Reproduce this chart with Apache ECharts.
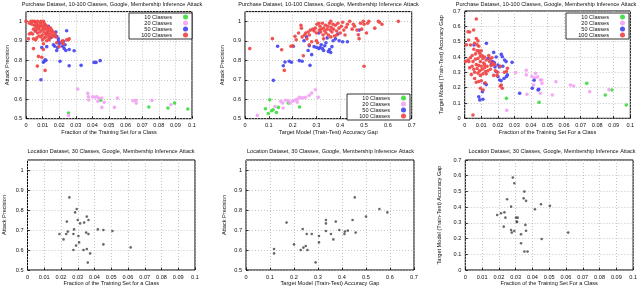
<!DOCTYPE html>
<html><head><meta charset="utf-8">
<script src="https://cdn.jsdelivr.net/npm/echarts@6/dist/echarts.min.js"></script>
<style>html,body{margin:0;padding:0;background:#fff}#c{width:640px;height:289px}</style>
</head><body><div id="c"></div>
<script>
// ---------- DATA ----------
const titleTop = 'Purchase Dataset, 10-100 Classes, Google, Membership Inference Attack';
const titleBottom = 'Location Dataset, 30 Classes, Google, Membership Inference Attack';
const seriesNames = ['10 Classes', '20 Classes', '50 Classes', '100 Classes'];

// Panel 1: fraction of training set vs attack precision
const p1_c10 = [[0.0256,0.529],[0.045,0.595],[0.074,0.56],[0.0855,0.555],[0.0895,0.58],[0.0975,0.55]];
const p1_c20 = [[0.0312,0.652],[0.0372,0.63],[0.0376,0.613],[0.0378,0.596],[0.0402,0.613],[0.0416,0.61],[0.0427,0.613],[0.0433,0.589],[0.044,0.605],[0.0457,0.606],[0.0457,0.558],[0.0471,0.584],[0.0533,0.558],[0.0551,0.606],[0.0644,0.592],[0.0662,0.594],[0.0664,0.58],[0.0759,0.594],[0.0873,0.572],[0.0256,0.517]];
const p1_c50 = [[0.0058,0.95],[0.0095,0.866],[0.009,0.70],[0.011,0.795],[0.0115,0.803],[0.0125,0.94],[0.0135,0.975],[0.0145,0.915],[0.0165,0.88],[0.0173,0.872],[0.0185,0.85],[0.019,0.865],[0.0195,0.897],[0.02,0.885],[0.0205,0.795],[0.0215,0.89],[0.022,0.872],[0.0225,0.897],[0.023,0.86],[0.024,0.85],[0.0245,0.952],[0.026,0.772],[0.026,0.855],[0.029,0.849],[0.0332,0.774],[0.041,0.789],[0.0422,0.789],[0.0447,0.798],[0.018,0.945],[0.0185,0.923],[0.0125,0.87],[0.0155,0.92],[0.0195,0.91],[0.0235,0.88],[0.0105,0.79],[0.012,0.80]];
const p1_c100 = [[0.000,1.0],[0.003,1.0],[0.004,1.0],[0.005,1.0],[0.0055,0.998],[0.007,1.0],[0.009,1.0],[0.0105,1.0],[0.0085,0.995],[0.006,0.99],
[0.002,0.99],[0.0035,0.985],[0.005,0.98],[0.0065,0.975],[0.008,0.97],[0.009,0.985],[0.01,0.975],[0.011,0.99],[0.012,0.98],[0.0075,0.96],[0.0095,0.955],[0.0105,0.965],[0.0115,0.96],[0.0125,0.965],[0.013,0.95],[0.014,0.955],[0.015,0.945],[0.0085,0.945],[0.007,0.94],[0.0055,0.95],[0.0045,0.96],[0.006,0.965],[0.0108,0.945],[0.0118,0.935],[0.0128,0.94],[0.0135,0.93],[0.0145,0.935],[0.016,0.93],[0.017,0.925],[0.0098,0.93],[0.009,0.92],[0.0078,0.925],[0.0065,0.915],[0.011,0.915],[0.012,0.92],[0.0138,0.915],[0.0155,0.92],[0.018,0.92],[0.0175,0.935],[0.0165,0.945],[0.0155,0.955],[0.0085,0.975],[0.0112,0.978],[0.0072,0.982],[0.0135,0.97],[0.0148,0.965],[0.003,0.94],[0.002,0.935],[0.004,0.935],[0.0015,0.91],[0.0045,0.91],[0.0058,0.905],[0.01,0.905],[0.0125,0.9],[0.014,0.905],[0.0215,0.895],[0.022,0.9],[0.0225,0.885],[0.0245,0.905],[0.026,0.91],[0.0255,0.905],[0.0185,0.89],[0.02,0.87],
[0.0045,0.86],[0.0075,0.82],[0.0095,0.815],[0.0105,0.855],[0.0105,0.885],[0.0068,0.77],[0.0115,0.748]];

// Panel 2: accuracy gap vs attack precision
const p2_c10 = [[0.104,0.597],[0.086,0.551],[0.098,0.527],[0.112,0.541],[0.118,0.546],[0.132,0.532],[0.14,0.558],[0.182,0.58],[0.229,0.56]];
const p2_c20 = [[0.052,0.517],[0.126,0.563],[0.15,0.589],[0.158,0.58],[0.17,0.595],[0.182,0.592],[0.19,0.58],[0.2,0.59],[0.21,0.595],[0.218,0.6],[0.228,0.61],[0.235,0.607],[0.245,0.607],[0.255,0.61],[0.27,0.62],[0.28,0.632],[0.296,0.649],[0.308,0.61],[0.22,0.585],[0.16,0.555]];
const p2_c50 = [[0.119,0.697],[0.137,0.872],[0.161,0.772],[0.168,0.791],[0.186,0.795],[0.195,0.79],[0.203,0.872],[0.228,0.798],[0.24,0.795],[0.248,0.9],[0.258,0.92],[0.273,0.774],[0.28,0.829],[0.265,0.85],[0.27,0.875],[0.29,0.87],[0.301,0.866],[0.31,0.86],[0.315,0.865],[0.32,0.88],[0.325,0.86],[0.33,0.85],[0.335,0.875],[0.34,0.89],[0.35,0.845],[0.355,0.855],[0.36,0.84],[0.365,0.87],[0.37,0.9],[0.38,0.91],[0.395,0.9],[0.41,0.895],[0.43,0.895],[0.39,0.935],[0.48,0.955],[0.31,0.94],[0.345,0.915]];
const p2_c100 = [[0.02,0.86],[0.115,0.911],[0.154,0.854],[0.165,0.748],[0.193,0.872],[0.2,0.875],[0.21,0.923],[0.215,0.905],[0.225,0.94],[0.235,0.98],[0.237,0.965],[0.24,0.92],[0.245,0.823],[0.25,0.93],[0.255,0.94],[0.26,0.91],[0.265,0.945],[0.27,0.93],[0.275,0.955],[0.28,0.895],[0.285,0.96],[0.29,0.95],[0.295,0.965],[0.3,0.94],[0.302,0.985],[0.305,0.89],[0.31,0.99],[0.312,0.955],[0.315,0.975],[0.318,0.945],[0.32,0.96],[0.325,0.99],[0.328,0.93],[0.33,0.965],[0.335,0.95],[0.338,0.98],[0.34,0.94],[0.345,0.96],[0.348,0.975],[0.35,0.93],[0.355,0.99],[0.358,0.955],[0.36,1.0],[0.362,0.97],[0.365,0.945],[0.37,0.985],[0.372,0.96],[0.375,0.925],[0.38,0.98],[0.385,0.95],[0.39,0.99],[0.395,0.965],[0.4,0.94],[0.405,0.975],[0.41,0.995],[0.415,0.955],[0.42,0.93],[0.425,0.97],[0.43,0.985],[0.44,1.0],[0.45,0.96],[0.455,0.985],[0.46,0.975],[0.47,0.955],[0.476,0.931],[0.479,0.911],[0.485,0.99],[0.49,0.96],[0.497,1.0],[0.5,0.985],[0.5,0.769],[0.51,0.94],[0.515,0.99],[0.52,1.0],[0.545,0.965],[0.56,1.0],[0.565,0.995],[0.575,0.985],[0.644,1.0],[0.33,0.91],[0.36,0.92],[0.385,0.93],[0.27,0.88],[0.3,0.9]];

// Panel 3: fraction of training set vs accuracy gap
const p3_c10 = [[0.0252,0.13],[0.0449,0.104],[0.0737,0.228],[0.0849,0.152],[0.0889,0.185],[0.0976,0.087]];
const p3_c20 = [[0.0308,0.298],[0.0372,0.313],[0.0372,0.283],[0.0376,0.157],[0.0406,0.272],[0.0423,0.265],[0.0416,0.217],[0.0457,0.25],[0.0465,0.25],[0.0467,0.228],[0.0457,0.163],[0.0529,0.152],[0.0551,0.239],[0.0638,0.217],[0.0658,0.211],[0.0755,0.174],[0.0871,0.187],[0.0254,0.052],[0.0427,0.293],[0.044,0.27]];
const p3_c50 = [[0.0056,0.478],[0.0131,0.489],[0.0167,0.37],[0.0175,0.365],[0.018,0.36],[0.0201,0.348],[0.021,0.335],[0.0221,0.417],[0.0227,0.402],[0.0241,0.38],[0.0191,0.304],[0.0201,0.272],[0.0211,0.25],[0.022,0.245],[0.0237,0.26],[0.0252,0.272],[0.0258,0.283],[0.0286,0.365],[0.0085,0.141],[0.0091,0.12],[0.011,0.124],[0.0107,0.174],[0.0121,0.228],[0.013,0.22],[0.014,0.39],[0.016,0.35],[0.0332,0.163],[0.0408,0.196],[0.0419,0.248],[0.0443,0.185],[0.0447,0.19],[0.0175,0.43],[0.019,0.4],[0.023,0.34],[0.025,0.37],[0.0183,0.335]];
const p3_c100 = [[0.007,0.648],[0.005,0.022],[0.002,0.565],[0.003,0.563],[0.0054,0.576],[0.0024,0.511],[0.001,0.48],[0.0035,0.478],[0.006,0.49],[0.007,0.52],[0.008,0.505],[0.0085,0.47],[0.0055,0.45],[0.0075,0.44],[0.009,0.425],[0.0095,0.405],[0.01,0.44],[0.0065,0.42],[0.0045,0.41],[0.0035,0.395],[0.002,0.38],[0.005,0.37],[0.0065,0.385],[0.008,0.39],[0.0095,0.37],[0.011,0.39],[0.012,0.4],[0.013,0.38],[0.0145,0.41],[0.015,0.37],[0.0115,0.36],[0.007,0.35],[0.0085,0.345],[0.01,0.34],[0.0045,0.34],[0.003,0.33],[0.0055,0.32],[0.0075,0.325],[0.009,0.31],[0.0105,0.32],[0.012,0.33],[0.0135,0.34],[0.016,0.345],[0.017,0.36],[0.018,0.35],[0.0125,0.305],[0.014,0.31],[0.0155,0.32],[0.008,0.295],[0.006,0.3],[0.004,0.285],[0.0095,0.28],[0.011,0.29],[0.013,0.29],[0.0185,0.31],[0.02,0.3],[0.0195,0.28],[0.0175,0.28],[0.0085,0.24],[0.007,0.235],[0.01,0.245],[0.0111,0.185],[0.0095,0.196],[0.0221,0.217],[0.0227,0.196],[0.0215,0.21],[0.0258,0.326],[0.0252,0.305],[0.024,0.3],[0.0215,0.34],[0.0025,0.37],[0.012,0.35],[0.0105,0.41],[0.0085,0.44],[0.0075,0.48],[0.0005,0.37],[0.006,0.26],[0.0125,0.23],[0.0155,0.39],[0.0165,0.395]];

// Panel 4: location, fraction vs attack precision
const p4_pts = [[0.0191,0.68],[0.0215,0.653],[0.0231,0.68],[0.0235,0.742],[0.0241,0.692],[0.025,0.863],[0.0274,0.68],[0.0278,0.703],[0.0274,0.6],[0.0284,0.788],[0.029,0.622],[0.0294,0.805],[0.03,0.75],[0.0304,0.67],[0.0308,0.638],[0.0314,0.733],[0.0334,0.6],[0.0338,0.737],[0.035,0.687],[0.0354,0.767],[0.0354,0.605],[0.036,0.537],[0.0364,0.75],[0.0364,0.68],[0.0374,0.583],[0.042,0.703],[0.0453,0.7],[0.0453,0.628],[0.0507,0.695],[0.0616,0.613]];
// Panel 5: location, accuracy gap vs attack precision
const p5_pts = [[0.117,0.605],[0.117,0.583],[0.169,0.737],[0.2,0.628],[0.228,0.6],[0.236,0.705],[0.239,0.612],[0.249,0.62],[0.253,0.68],[0.256,0.6],[0.274,0.68],[0.29,0.538],[0.304,0.67],[0.304,0.638],[0.333,0.75],[0.333,0.733],[0.333,0.695],[0.354,0.68],[0.364,0.653],[0.374,0.742],[0.389,0.7],[0.41,0.68],[0.412,0.692],[0.424,0.697],[0.444,0.75],[0.453,0.863],[0.457,0.687],[0.5,0.767],[0.556,0.805],[0.589,0.788]];
// Panel 6: location, fraction vs accuracy gap
const p6_pts = [[0.019,0.35],[0.0213,0.361],[0.0233,0.367],[0.0239,0.333],[0.0229,0.276],[0.0249,0.45],[0.0273,0.403],[0.0273,0.255],[0.0277,0.238],[0.0283,0.588],[0.0292,0.248],[0.0292,0.552],[0.0302,0.333],[0.0306,0.308],[0.0309,0.305],[0.0312,0.333],[0.0332,0.17],[0.0332,0.227],[0.0348,0.456],[0.0352,0.499],[0.0352,0.117],[0.0358,0.287],[0.0362,0.44],[0.0362,0.25],[0.0371,0.117],[0.0415,0.386],[0.0451,0.418],[0.0455,0.197],[0.0504,0.408],[0.0613,0.238]];

const xNames = ['Fraction of the Training Set for a Class','Target Model (Train-Test) Accuracy Gap','Fraction of the Training Set For a Class','Fraction of the Training Set for a Class','Target Model (Train-Test) Accuracy Gap','Fraction of the Training Set For a Class'];
const yNames = ['Attack Precision','Attack Precision','Target Model (Train-Test) Accuracy Gap','Attack Precision','Attack Precision','Target Model (Train-Test) Accuracy Gap'];

// ---------- CHART ----------
const FONT = 'Liberation Sans, Arial, sans-serif';
const FS = 5.6;
const colors = ['#44dd44', '#f2a6f2', '#4b4bf0', '#f04a4a'];
const boxes = [[26,11.6,192,118.7],[245,11.6,411.7,118.7],[464.7,11,630.3,118.3],[27.3,160,195,270],[246,160,414,270],[465.3,160,634,270]];
const xMax = [0.1,0.7,0.1,0.1,0.7,0.1];
const xInt = [0.01,0.1,0.01,0.01,0.1,0.01];
const yMin = [0.5,0.5,0,0.5,0.5,0];
const yMax = [1.05,1.05,0.7,1.05,1.05,0.7];
const yGap = [16,19.5,20,20.5,19,22.5];
const xGap = [11,11,11,6,6,6];

const grid = boxes.map(b => ({left:b[0], top:b[1], width:b[2]-b[0], height:b[3]-b[1], show:true, borderColor:'#000', borderWidth:1, backgroundColor:'transparent'}));
const splitStyle = {show:true, lineStyle:{color:'#b8b8b8', type:[1,2], width:0.8}};
const xAxis = boxes.map((b,i) => ({type:'value', gridIndex:i, min:0, max:xMax[i], interval:xInt[i],
  name:xNames[i], nameLocation:'middle', nameGap:xGap[i], nameTextStyle:{fontFamily:FONT, fontSize:FS, color:'#111'},
  axisLine:{show:false}, axisTick:{show:true, inside:true, length:2.5, lineStyle:{color:'#000', width:0.8}},
  axisLabel:{fontFamily:FONT, fontSize:FS, color:'#111', margin:4}, splitLine:splitStyle}));
const yAxis = boxes.map((b,i) => ({type:'value', gridIndex:i, min:yMin[i], max:yMax[i], interval:0.1,
  name:yNames[i], nameLocation:'middle', nameGap:yGap[i], nameTextStyle:{fontFamily:FONT, fontSize:FS, color:'#111'},
  axisLine:{show:false}, axisTick:{show:true, inside:true, length:2.5, lineStyle:{color:'#000', width:0.8}},
  axisLabel:{fontFamily:FONT, fontSize:FS, color:'#111', margin:4, showMaxLabel: yMax[i] === 0.7},
  splitLine:splitStyle}));

const topData = [[p1_c10,p1_c20,p1_c50,p1_c100],[p2_c10,p2_c20,p2_c50,p2_c100],[p3_c10,p3_c20,p3_c50,p3_c100]];
const series = [];
topData.forEach((arrs, gi) => {
  arrs.forEach((d, si) => {
    series.push({type:'scatter', name:seriesNames[si], xAxisIndex:gi, yAxisIndex:gi, data:d,
      symbol:'circle', symbolSize:3.6, itemStyle:{color:colors[si], opacity:0.95}, silent:true, animation:false});
  });
});
[p4_pts,p5_pts,p6_pts].forEach((d, k) => {
  series.push({type:'scatter', name:'pts'+k, xAxisIndex:3+k, yAxisIndex:3+k, data:d,
    symbol:'circle', symbolSize:2.6, itemStyle:{color:'#444'}, silent:true, animation:false});
});

const titleCenters = [112, 328.5, 546, 111, 330.5, 552];
const title = titleCenters.map((c,i) => ({text: i<3?titleTop:titleBottom, left:c, top: i<3?1.2:148.2, textAlign:'center', padding:0,
  textStyle:{fontFamily:FONT, fontSize:5.5, fontWeight:'normal', color:'#111'}}));

const legendPos = [[129,13],[347,94],[566,13]];
const legend = legendPos.map(p => ({orient:'vertical', left:p[0], top:p[1], data:seriesNames, align:'right',
  itemWidth:5, itemHeight:5, itemGap:0, padding:[1,4,1,3], borderColor:'#000', borderWidth:0.8, backgroundColor:'#fff',
  icon:'circle', selectedMode:false,
  textStyle:{fontFamily:FONT, fontSize:FS, lineHeight:5.3, color:'#111', width:40, align:'right', padding:[0,6,0,0]}}));

const chart = echarts.init(document.getElementById('c'), null, {renderer:'canvas'});
chart.setOption({animation:false, grid, xAxis, yAxis, series, title, legend});
</script></body></html>
